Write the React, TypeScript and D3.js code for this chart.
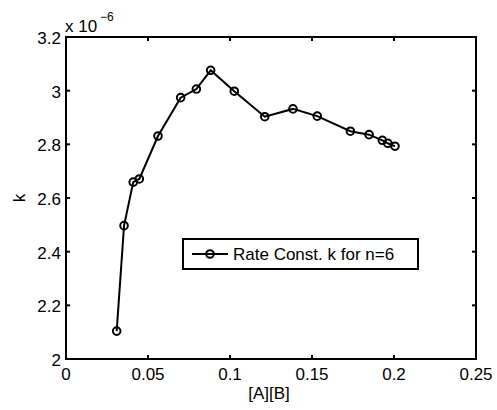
import React from "react";
import * as d3 from "d3";

const xValues = [0.0309, 0.0354, 0.0410, 0.0447, 0.0561, 0.0699, 0.0795, 0.0882, 0.1026, 0.1212, 0.1384, 0.1532, 0.1734, 0.1848, 0.1929, 0.1962, 0.2006];
const kValues = [2.104, 2.497, 2.659, 2.671, 2.831, 2.974, 3.006, 3.076, 2.998, 2.903, 2.932, 2.905, 2.849, 2.836, 2.815, 2.804, 2.793];
const xTicks = [0, 0.05, 0.1, 0.15, 0.2, 0.25];
const yTicks = [2, 2.2, 2.4, 2.6, 2.8, 3, 3.2];
const xTickLabels = ["0", "0.05", "0.1", "0.15", "0.2", "0.25"];
const yTickLabels = ["2", "2.2", "2.4", "2.6", "2.8", "3", "3.2"];
const legendLabel = "Rate Const. k for n=6";

export default function App() {
  const W = 497, H = 410;
  const L = 66, R = 476, T = 37, B = 359;
  const x = d3.scaleLinear().domain([0, 0.25]).range([L, R]);
  const y = d3.scaleLinear().domain([2, 3.2]).range([B, T]);
  const line = d3.line<number>().x((_, i) => x(xValues[i])).y((d) => y(d));
  const font = "Liberation Sans, Arial, sans-serif";
  const fs = 17;
  const tl = 4;
  return (
    <svg width={W} height={H} style={{ position: "absolute", left: 0, top: 0, background: "#fff" }} fontFamily={font}>
      <rect x={0} y={0} width={W} height={H} fill="#fff" />
      {xTicks.map((t, i) => (
        <g key={"xt" + i}>
          <line x1={x(t)} x2={x(t)} y1={B} y2={B - tl} stroke="#000" strokeWidth={2} />
          <line x1={x(t)} x2={x(t)} y1={T} y2={T + tl} stroke="#000" strokeWidth={2} />
          <text x={x(t)} y={380} textAnchor="middle" fontSize={fs}>{xTickLabels[i]}</text>
        </g>
      ))}
      {yTicks.map((t, i) => (
        <g key={"yt" + i}>
          <line x1={L} x2={L + tl} y1={y(t)} y2={y(t)} stroke="#000" strokeWidth={2} />
          <line x1={R} x2={R - tl} y1={y(t)} y2={y(t)} stroke="#000" strokeWidth={2} />
          <text x={61} y={y(t) + 7} textAnchor="end" fontSize={fs}>{yTickLabels[i]}</text>
        </g>
      ))}
      <rect x={L} y={T} width={R - L} height={B - T} fill="none" stroke="#000" strokeWidth={2} />
      <text x={65} y={32} fontSize={fs}>x 10</text>
      <text x={100} y={21} fontSize={12}>−6</text>
      <text x={269} y={399} textAnchor="middle" fontSize={fs}>[A][B]</text>
      <text transform={`translate(25,198) rotate(-90)`} textAnchor="middle" fontSize={fs}>k</text>
      <path d={line(kValues) || ""} fill="none" stroke="#000" strokeWidth={2} />
      {kValues.map((v, i) => (
        <circle key={"p" + i} cx={x(xValues[i])} cy={y(v)} r={3.8} fill="none" stroke="#000" strokeWidth={2} />
      ))}
      <rect x={183} y={239} width={235} height={30} fill="#fff" stroke="#000" strokeWidth={2} />
      <line x1={192} x2={228} y1={254} y2={254} stroke="#000" strokeWidth={2} />
      <circle cx={210} cy={254} r={3.8} fill="none" stroke="#000" strokeWidth={2} />
      <text x={233} y={260} fontSize={fs}>{legendLabel}</text>
    </svg>
  );
}
